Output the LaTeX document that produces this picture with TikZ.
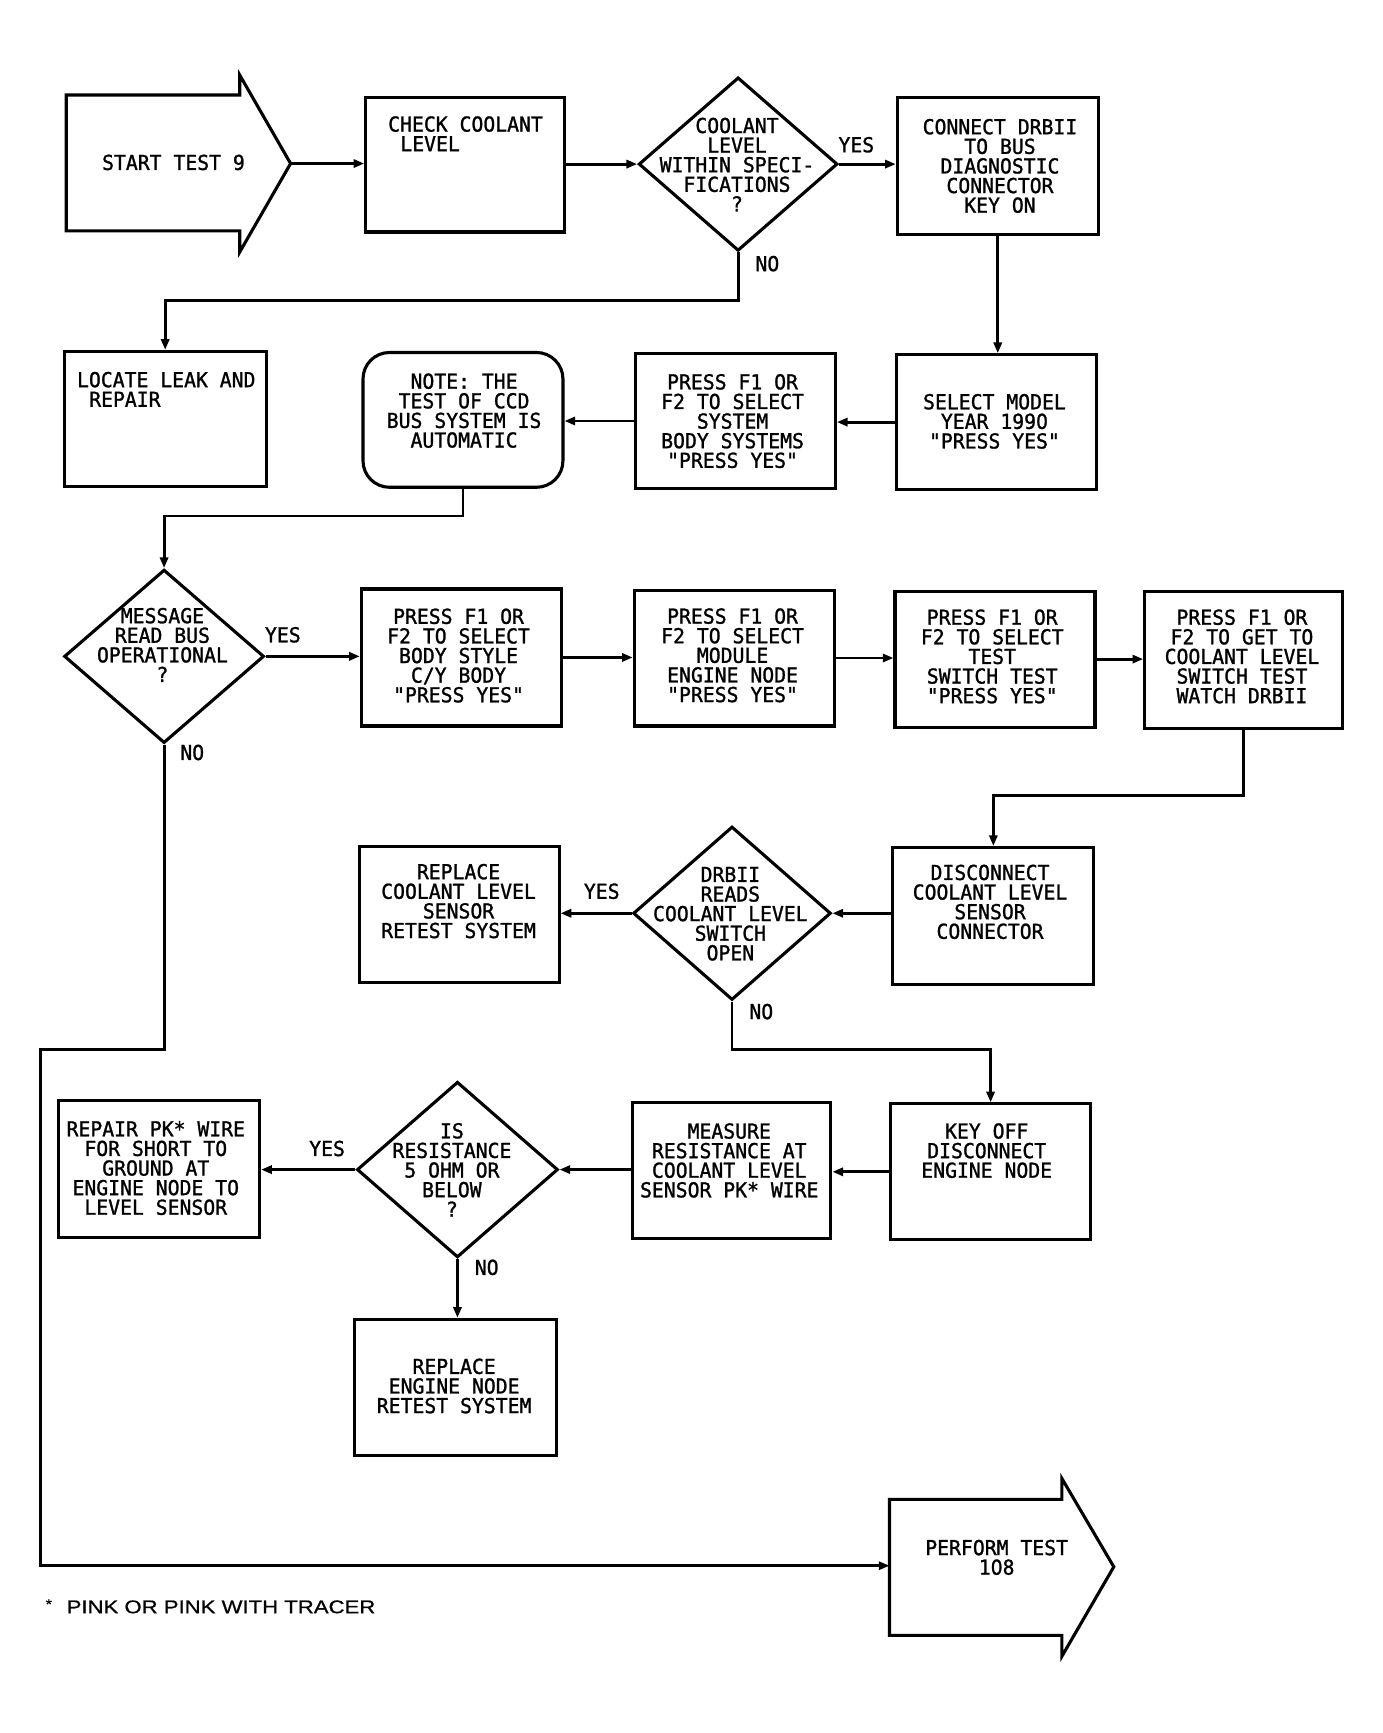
\documentclass[tikz,border=0pt]{standalone}
\usepackage{fontspec}
\usetikzlibrary{shapes.geometric,arrows.meta}
\newfontfamily\plotfont[FakeStretch=0.96,FakeBold=1.2]{DejaVu Sans Mono}
\newfontfamily\zerofont[FakeStretch=0.91,FakeBold=1.2]{DejaVu Sans}
\newfontfamily\footfont[FakeStretch=1.2,FakeBold=0.8]{Liberation Sans}
\newcommand{\zr}{{\zerofont 0}}
\begin{document}
\begin{tikzpicture}[x=0.02cm,y=-0.02cm,
  shp/.style={draw, line width=1.6pt, line join=miter},
  box/.style={shp, rectangle, inner sep=0pt},
  dia/.style={shp, diamond, inner sep=0pt, minimum width=3.6cm, minimum height=3.14cm},
  conn/.style={line width=1.5pt, -{Triangle[length=5.5pt,width=4.2pt]}},
  txt/.style={font=\plotfont\fontsize{10.6pt}{10.1pt}\selectfont, inner sep=0pt, align=center, anchor=north},
  txtl/.style={txt, align=left, anchor=north west},
  lbl/.style={font=\plotfont\fontsize{10.6pt}{10.1pt}\selectfont, inner sep=0pt},
  foot/.style={font=\footfont\fontsize{9.5pt}{11pt}\selectfont, inner sep=0pt}
]
\useasboundingbox[fill=white] (0,0) rectangle (1251.6,1568.4);

% helper coordinates
\coordinate (y272) at (0,272);
\coordinate (y467) at (0,467);
\coordinate (y720) at (0,720);
\coordinate (y950) at (0,950);
\coordinate (c37) at (37,950);

% start arrow
\coordinate (starttip) at (263,148);
\draw[shp] (60,86) -- (217,86) -- (217,68) -- (starttip) -- (217,228) -- (217,209) -- (60,209) -- cycle;
\node[lbl] (tstart) at (157,147) {START TEST 9};

% row 1
\node[box, minimum width=3.6cm, minimum height=2.44cm] (check) at (421,149) {};
\node[dia] (D1) at (668,148.5) {};
\node[box, minimum width=3.64cm, minimum height=2.48cm] (connect) at (903,150) {};

% row 2
\node[box, minimum width=3.66cm, minimum height=2.44cm] (locate) at (149.5,379) {};
\node[box, rounded corners=0.48cm, minimum width=3.62cm, minimum height=2.44cm] (note) at (419,380) {};
\node[box, minimum width=3.62cm, minimum height=2.44cm] (press2) at (665.5,381) {};
\node[box, minimum width=3.62cm, minimum height=2.44cm] (select) at (901.5,382) {};

% row 3
\node[dia, minimum width=3.62cm] (D2) at (148.5,594) {};
\node[box, minimum width=3.62cm, minimum height=2.48cm] (b3a) at (417.5,595) {};
\node[box, minimum width=3.62cm, minimum height=2.46cm] (b3b) at (664.5,595.5) {};
\node[box, minimum width=3.62cm, minimum height=2.46cm] (b3c) at (900.5,596.5) {};
\node[box, minimum width=3.58cm, minimum height=2.48cm] (b3d) at (1125.5,597) {};

% row 4
\node[box, minimum width=3.62cm, minimum height=2.46cm] (rc) at (415.5,827.5) {};
\node[dia, minimum width=3.58cm] (D3) at (662.5,826.5) {};
\node[box, minimum width=3.64cm, minimum height=2.48cm] (disc) at (899,829) {};

% row 5
\node[box, minimum width=3.64cm, minimum height=2.48cm] (repair) at (144,1058) {};
\node[dia, minimum width=3.64cm, minimum height=3.18cm] (D4) at (414,1058.5) {};
\node[box, minimum width=3.6cm, minimum height=2.46cm] (meas) at (662,1059.5) {};
\node[box, minimum width=3.62cm, minimum height=2.46cm] (keyoff) at (896.5,1060.5) {};
\node[box, minimum width=3.66cm, minimum height=2.46cm] (re) at (412.5,1255.5) {};

% perform arrow
\coordinate (perfin) at (805,1417);
\draw[shp] (805,1357) -- (961,1357) -- (961,1338) -- (1008,1418) -- (961,1499) -- (961,1480) -- (805,1480) -- cycle;

% texts
\node[txtl] (tcheck) at (351,104.9) {CHECK COOLANT\\\hspace*{0.22cm}LEVEL};
\node[txt] (tD1) at (667,106.2) {COOLANT\\LEVEL\\WITHIN SPECI-\\FICATIONS\\?};
\node[txt] (tconnect) at (905,107.3) {CONNECT DRBII\\TO BUS\\DIAGNOSTIC\\CONNECTOR\\KEY ON};
\node[txtl] (tlocate) at (69.4,336.2) {LOCATE LEAK AND\\\hspace*{0.22cm}REPAIR};
\node[txt] (tnote) at (420,337.6) {NOTE: THE\\TEST OF CCD\\BUS SYSTEM IS\\AUTOMATIC};
\node[txt] (tpress2) at (663,338.2) {PRESS F1 OR\\F2 TO SELECT\\SYSTEM\\BODY SYSTEMS\\"PRESS YES"};
\node[txt] (tselect) at (900,356.2) {SELECT MODEL\\YEAR 199\zr\\"PRESS YES"};
\node[txt] (tD2) at (147,549.8) {MESSAGE\\READ BUS\\OPERATIONAL\\?};
\node[txt] (t3a) at (415,550.4) {PRESS F1 OR\\F2 TO SELECT\\BODY STYLE\\C/Y BODY\\"PRESS YES"};
\node[txt] (t3b) at (663,550.2) {PRESS F1 OR\\F2 TO SELECT\\MODULE\\ENGINE NODE\\"PRESS YES"};
\node[txt] (t3c) at (898,551.2) {PRESS F1 OR\\F2 TO SELECT\\TEST\\SWITCH TEST\\"PRESS YES"};
\node[txt] (t3d) at (1124,551.2) {PRESS F1 OR\\F2 TO GET TO\\COOLANT LEVEL\\SWITCH TEST\\WATCH DRBII};
\node[txt] (trc) at (415,781.5) {REPLACE\\COOLANT LEVEL\\SENSOR\\RETEST SYSTEM};
\node[txt] (tD3) at (661,784.2) {DRBII\\READS\\COOLANT LEVEL\\SWITCH\\OPEN};
\node[txt] (tdisc) at (896,782.2) {DISCONNECT\\COOLANT LEVEL\\SENSOR\\CONNECTOR};
\node[txt] (trepair) at (141,1014.2) {REPAIR PK* WIRE\\FOR SHORT TO\\GROUND AT\\ENGINE NODE TO\\LEVEL SENSOR};
\node[txt] (tD4) at (409,1016) {IS\\RESISTANCE\\5 OHM OR\\BELOW\\?};
\node[txt] (tmeas) at (660,1016.2) {MEASURE\\RESISTANCE AT\\COOLANT LEVEL\\SENSOR PK* WIRE};
\node[txt] (tkeyoff) at (893,1016.2) {KEY OFF\\DISCONNECT\\ENGINE NODE};
\node[txt] (tre) at (411,1229.2) {REPLACE\\ENGINE NODE\\RETEST SYSTEM};
\node[txt] (tperf) at (902,1393.2) {PERFORM TEST\\1\zr8};

% labels
\node[lbl] (yes1) at (775,131) {YES};
\node[lbl] (no1) at (694.5,238.6) {NO};
\node[lbl] (yes2) at (256,574.5) {YES};
\node[lbl] (no2) at (174,681) {NO};
\node[lbl] (yes3) at (544.6,806.6) {YES};
\node[lbl] (no3) at (689,915.5) {NO};
\node[lbl] (yes4) at (296,1039.4) {YES};
\node[lbl] (no4) at (440.5,1147) {NO};

% footnote
\node[foot, anchor=base west, font=\footfont\fontsize{7pt}{8pt}\selectfont] (star) at (41,1456) {*};
\node[foot, anchor=base west] (fnote) at (60,1460) {PINK OR PINK WITH TRACER};

% connectors
\draw[conn] (starttip) -- (starttip -| check.west);
\draw[conn] (check.east |- D1.west) -- (D1.west);
\draw[conn] (D1.east) -- (D1.east -| connect.west);
\draw[conn] (D1.south) -- (D1.south |- y272) -| (locate.north);
\draw[conn] (connect.south) -- (connect.south |- select.north);
\draw[conn] (select.west) -- (select.west -| press2.east);
\draw[conn] (press2.west) -- (press2.west -| note.east);
\draw[conn] (note.south) -- (note.south |- y467) -| (D2.north);
\draw[conn] (D2.east) -- (D2.east -| b3a.west);
\draw[conn] (b3a.east) -- (b3a.east -| b3b.west);
\draw[conn] (b3b.east) -- (b3b.east -| b3c.west);
\draw[conn] (b3c.east) -- (b3c.east -| b3d.west);
\draw[conn] (b3d.south) -- (b3d.south |- y720) -| (disc.north);
\draw[conn] (D3.east -| disc.west) -- (D3.east);
\draw[conn] (D3.west) -- (D3.west -| rc.east);
\draw[conn] (D3.south) -- (D3.south |- y950) -| (keyoff.north);
\draw[conn] (keyoff.west) -- (keyoff.west -| meas.east);
\draw[conn] (D4.east -| meas.west) -- (D4.east);
\draw[conn] (D4.west) -- (D4.west -| repair.east);
\draw[conn] (D4.south) -- (D4.south |- re.north);
\draw[conn] (D2.south) |- (c37) |- (perfin);
\end{tikzpicture}
\end{document}
